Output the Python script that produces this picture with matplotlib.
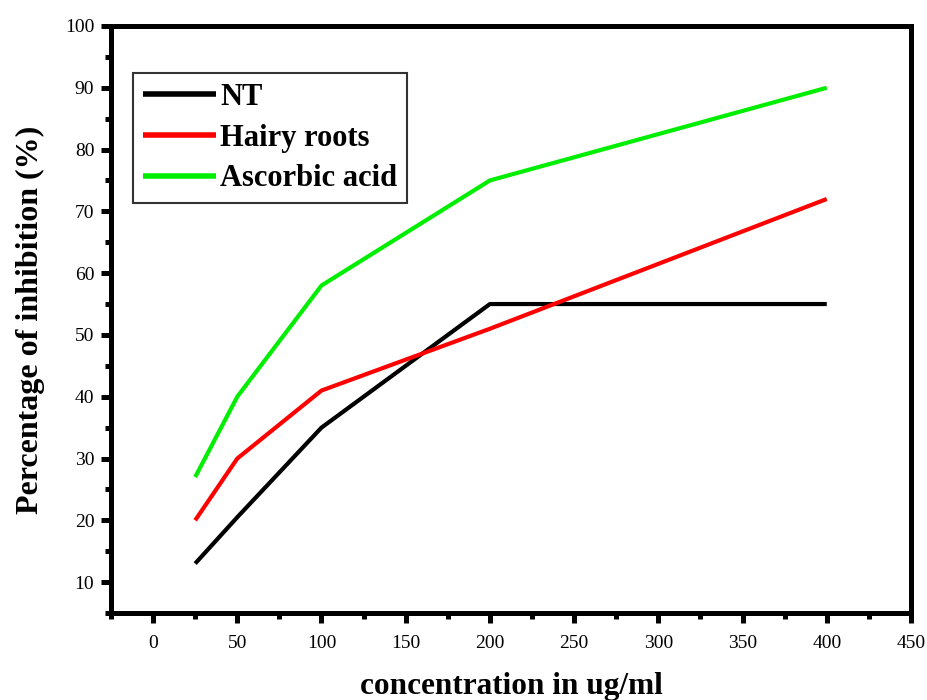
import matplotlib
matplotlib.use("Agg")
import matplotlib.pyplot as plt
from matplotlib.ticker import MultipleLocator

conc = [25, 50, 100, 200, 400]
nt = [13, 20.5, 35, 55, 55]
hairy = [20, 30, 41, 51, 72]
ascorbic = [27, 40, 58, 75, 90]
labels = ["NT", "Hairy roots", "Ascorbic acid"]
colors = ["#000000", "#ff0000", "#00ee00"]

plt.rcParams['font.family'] = ['Liberation Serif', 'DejaVu Serif']

fig = plt.figure(figsize=(9.27, 7.0), dpi=100)
ax = fig.add_axes([0.1197, 0.1243, 0.8630, 0.8386])

for ys, lab, c in zip([nt, hairy, ascorbic], labels, colors):
    ax.plot(conc, ys, color=c, lw=3.0, label=lab, solid_capstyle='butt')

ax.set_xlim(-25, 450)
ax.set_ylim(5, 100)
ax.xaxis.set_minor_locator(MultipleLocator(25))
ax.yaxis.set_minor_locator(MultipleLocator(5))
ax.set_yticks(range(10, 101, 10))
ax.set_xticks(range(0, 451, 50))

for s in ax.spines.values():
    s.set_linewidth(3.6)
ax.tick_params(which='major', direction='out', length=7, width=3.6, labelsize=14, pad=5)
ax.tick_params(axis='x', which='major', pad=9)
ax.tick_params(which='minor', direction='out', length=4, width=3.6)

ax.set_xlabel("concentration in ug/ml", fontsize=22.5, fontweight='bold')
ax.xaxis.set_label_coords(0.5, -0.1)
ax.set_ylabel("Percentage of inhibition (%)", fontsize=23, fontweight='bold')
ax.yaxis.set_label_coords(-0.083, 0.5)

leg = ax.legend(loc='upper left', bbox_to_anchor=(0.0275, 0.92), borderaxespad=0,
                prop={'size': 22, 'weight': 'bold'},
                frameon=True, fancybox=False, edgecolor='black', handlelength=2.4,
                handletextpad=0.12, borderpad=0.33, labelspacing=0.38)
leg.get_frame().set_linewidth(1.5)
for h in leg.get_lines():
    h.set_linewidth(4)

fig.savefig("out.png", dpi=100)
